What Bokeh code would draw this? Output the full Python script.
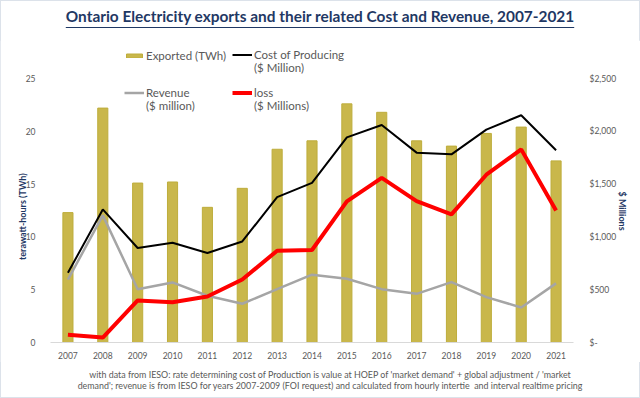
import math
from bokeh.plotting import figure
from bokeh.models import (Range1d, LinearAxis, FixedTicker, Legend, LegendItem,
                          ColumnDataSource, NumeralTickFormatter, Div)
from bokeh.layouts import column
from bokeh.embed import file_html
from bokeh.resources import INLINE

years = [str(y) for y in range(2007, 2022)]
exported_twh = [12.3, 22.2, 15.1, 15.2, 12.8, 14.6, 18.3, 19.1, 22.6, 21.8, 19.1, 18.6, 19.8, 20.4, 17.2]
cost_musd = [660, 1260, 895, 945, 847, 957, 1377, 1512, 1943, 2060, 1798, 1782, 2016, 2152, 1820]
revenue_musd = [595, 1204, 505, 569, 443, 367, 505, 642, 604, 505, 461, 572, 430, 332, 560]
loss_musd = [73, 47, 398, 382, 436, 597, 869, 876, 1336, 1559, 1339, 1213, 1589, 1829, 1251]
left_ticks = [0, 5, 10, 15, 20, 25]
right_ticks = [0, 500, 1000, 1500, 2000, 2500]

title_text = "Ontario Electricity exports and their related Cost and Revenue, 2007-2021"
note_line1 = ("with data from IESO: rate determining cost of Production is value at HOEP of "
              "'market demand' + global adjustment / 'market")
note_line2 = ("demand'; revenue is from IESO for years 2007-2009 (FOI request) and calculated "
              "from hourly intertie&nbsp; and interval realtime pricing")

FONT = "Lato"
NAVY = "#1F3864"
GREY_TXT = "#595959"
W = 640
PAD = "\u00a0" * 23   # shifts the centred axis titles down to the middle of the 0-25 span

src = ColumnDataSource(dict(year=years, exported=exported_twh, cost=cost_musd,
                            revenue=revenue_musd, loss=loss_musd))

title_div = Div(
    text=f'<div style="width:{W}px;text-align:center;font-family:{FONT};font-weight:bold;'
         f'font-size:15.4px;color:{NAVY};text-decoration:underline;text-underline-offset:5px;'
         f'text-decoration-thickness:1px;line-height:16px;padding-top:8px;">{title_text}</div>',
    width=W, height=40, margin=(0, 0, 0, 0))

p = figure(width=W, height=322, x_range=years, y_range=Range1d(0, 28.6),
           output_backend="svg", toolbar_location=None,
           min_border_left=50, min_border_right=67, min_border_top=0, min_border_bottom=20,
           margin=(0, 0, 0, 0))
p.extra_y_ranges = {"usd": Range1d(0, 2860)}

p.outline_line_color = None
p.xgrid.visible = False
p.ygrid.visible = False

bars = p.vbar(x="year", top="exported", width=0.29, source=src,
              fill_color="#C9B74B", line_color="#BEAD3C", line_width=1)
cost_r = p.line(x="year", y="cost", source=src, y_range_name="usd",
                line_color="black", line_width=2)
rev_r = p.line(x="year", y="revenue", source=src, y_range_name="usd",
               line_color="#A5A5A5", line_width=2.5)
loss_r = p.line(x="year", y="loss", source=src, y_range_name="usd",
                line_color="#FF0000", line_width=4)
blank_r = p.line(x=[], y=[], line_alpha=0)

# left axis
ya = p.yaxis[0]
ya.ticker = FixedTicker(ticks=left_ticks)
ya.axis_line_color = None
ya.major_tick_line_color = None
ya.minor_tick_line_color = None
ya.major_label_text_color = GREY_TXT
ya.major_label_text_font = FONT
ya.major_label_text_font_size = "8.5px"
ya.major_label_standoff = 9
ya.axis_label = "terawatt-hours (TWh)" + PAD
ya.axis_label_text_font = FONT
ya.axis_label_text_font_style = "bold"
ya.axis_label_text_font_size = "9px"
ya.axis_label_text_color = NAVY
ya.axis_label_standoff = -5

# right axis
ra = LinearAxis(y_range_name="usd", ticker=FixedTicker(ticks=right_ticks),
                formatter=NumeralTickFormatter(format="$0,0"))
ra.major_label_overrides = {0: "$-"}
ra.axis_line_color = None
ra.major_tick_line_color = None
ra.minor_tick_line_color = None
ra.major_label_text_color = GREY_TXT
ra.major_label_text_font = FONT
ra.major_label_text_font_size = "8.5px"
ra.major_label_standoff = 10
ra.axis_label = "$ Millions" + PAD
ra.axis_label_text_font = FONT
ra.axis_label_text_font_style = "bold"
ra.axis_label_text_font_size = "9px"
ra.axis_label_text_color = NAVY
ra.axis_label_standoff = 3
ra.axis_label_orientation = -math.pi / 2
p.add_layout(ra, "right")

# bottom axis
xa = p.xaxis[0]
xa.axis_line_color = "#D9D9D9"
xa.major_tick_line_color = None
xa.minor_tick_line_color = None
xa.major_label_text_color = GREY_TXT
xa.major_label_text_font = FONT
xa.major_label_text_font_size = "8.5px"
xa.major_label_standoff = 3


def make_legend(items, loc):
    lg = Legend(items=items, location=loc, orientation="vertical")
    lg.background_fill_alpha = 0
    lg.border_line_color = None
    lg.padding = 0
    lg.margin = 0
    lg.spacing = 0
    lg.glyph_width = 20
    lg.glyph_height = 5
    lg.label_height = 12
    lg.label_standoff = 2
    lg.label_text_font = FONT
    lg.label_text_font_size = "11.5px"
    lg.label_text_line_height = 1.0
    lg.label_text_color = GREY_TXT
    p.add_layout(lg)


make_legend([LegendItem(label="Exported (TWh)", renderers=[bars])], (74, 280))
make_legend([LegendItem(label="Cost of Producing", renderers=[cost_r]),
             LegendItem(label="($ Million)", renderers=[blank_r])], (182, 268))
make_legend([LegendItem(label="Revenue", renderers=[rev_r]),
             LegendItem(label="($ million)", renderers=[blank_r])], (74, 230))
make_legend([LegendItem(label="loss", renderers=[loss_r]),
             LegendItem(label="($ Millions)", renderers=[blank_r])], (182, 230))

note_div = Div(
    text=f'<div style="width:{W}px;text-align:center;font-family:{FONT};font-size:8.9px;'
         f'color:{GREY_TXT};line-height:11px;padding-top:7px;padding-left:20px;">'
         f'{note_line1}<br>{note_line2}</div>',
    width=W, height=36, margin=(0, 0, 0, 0))

layout = column(title_div, p, note_div, spacing=0,
                styles={"outline": "1px solid #DCE2EA", "outline-offset": "-1px"})

open("out.html", "w").write(file_html(layout, INLINE))
